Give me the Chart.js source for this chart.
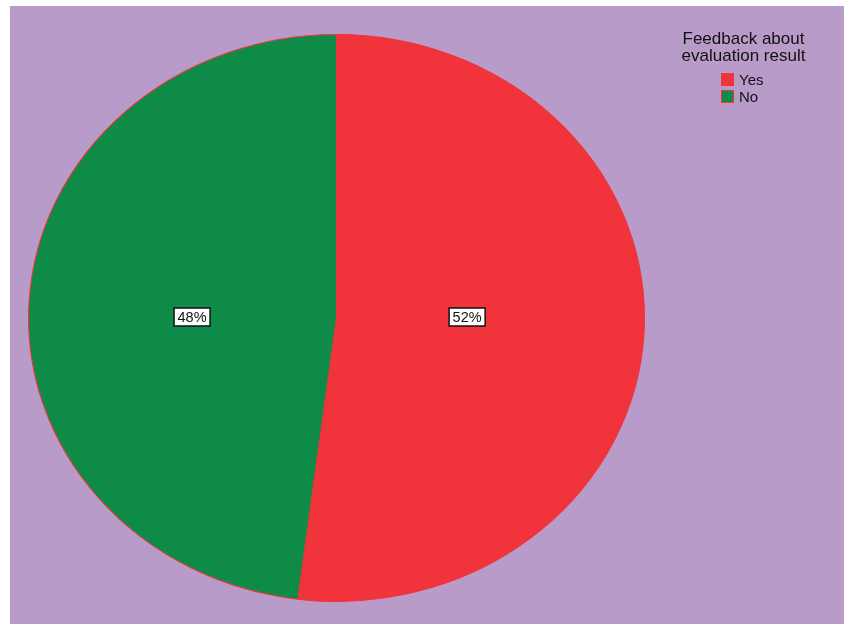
<!DOCTYPE html>
<html>
<head>
<meta charset="utf-8">
<script src="https://cdn.jsdelivr.net/npm/chart.js@4.4.0/dist/chart.umd.min.js"></script>
<style>
  html, body { margin: 0; padding: 0; background: #ffffff; }
  #wrap { position: relative; width: 844px; height: 624px; overflow: hidden; }
  #bg { position: absolute; left: 10px; top: 6px; width: 834px; height: 618px; background: #b89bc9; }
  #pie { position: absolute; left: 0; top: 0; }
  #legend { position: absolute; left: 0; top: 0; font-family: "Liberation Sans", Arial, sans-serif; color: #111; }
  #legend .title { position: absolute; left: 663px; top: 30px; width: 161px; font-size: 17px; line-height: 17px; text-align: center; white-space: nowrap; }
  #legend .item { position: absolute; left: 739px; font-size: 15px; line-height: 17px; white-space: nowrap; }
  #legend .sw { position: absolute; left: 721px; width: 11px; height: 11px; border: 1px solid #f1333b; }
</style>
</head>
<body>
<div id="wrap">
  <div id="bg"></div>
  <canvas id="pie" width="844" height="624"></canvas>
  <div id="legend"></div>
</div>
<script>
var legendTitle = ["Feedback about", "evaluation result"];
var categories = ["Yes", "No"];
var percents = [52, 48];
var sliceColors = ["#f1333b", "#0f8b48"];

// ellipse stretch (SPSS draws the pie as an ellipse)
var stretchX = 308.5 / 284;

var ellipsePlugin = {
  id: "ellipse",
  beforeDatasetsDraw: function (chart) {
    var a = chart.getDatasetMeta(0).data[0];
    var ctx = chart.ctx;
    ctx.save();
    ctx.translate(a.x, a.y);
    ctx.scale(stretchX, 1);
    ctx.translate(-a.x, -a.y);
  },
  afterDatasetsDraw: function (chart) {
    chart.ctx.restore();
  }
};

var boxLabels = {
  id: "boxLabels",
  afterDraw: function (chart, args, opts) {
    var ctx = chart.ctx;
    var meta = chart.getDatasetMeta(0);
    ctx.save();
    ctx.font = "14.5px 'Liberation Sans', Arial, sans-serif";
    ctx.textAlign = "center";
    ctx.textBaseline = "middle";
    meta.data.forEach(function (arc, i) {
      var mid = (arc.startAngle + arc.endAngle) / 2;
      var k = opts.radius[i];
      var x = arc.x + Math.cos(mid) * arc.outerRadius * k * stretchX;
      var y = arc.y + opts.dy[i];
      var txt = percents[i] + "%";
      var w = ctx.measureText(txt).width + 7;
      var h = 18;
      ctx.fillStyle = "#ffffff";
      ctx.fillRect(x - w / 2, y - h / 2, w, h);
      ctx.lineWidth = 1.5;
      ctx.strokeStyle = "#111111";
      ctx.strokeRect(x - w / 2, y - h / 2, w, h);
      ctx.fillStyle = "#111111";
      ctx.fillText(txt, x, y + 1);
    });
    ctx.restore();
  }
};

new Chart(document.getElementById("pie").getContext("2d"), {
  type: "pie",
  data: {
    labels: categories,
    datasets: [{
      data: percents,
      backgroundColor: sliceColors,
      borderColor: "#f1333b",
      borderWidth: 1
    }]
  },
  options: {
    responsive: false,
    animation: false,
    layout: { padding: { left: 52.5, right: 223.5, top: 34, bottom: 22 } },
    plugins: {
      legend: { display: false },
      tooltip: { enabled: false },
      boxLabels: { radius: [0.425, 0.47], dy: [-1, -1] }
    }
  },
  plugins: [ellipsePlugin, boxLabels]
});

// legend as html text
var lg = document.getElementById("legend");
var html = '<div class="title">' + legendTitle.join("<br>") + '</div>';
categories.forEach(function (c, i) {
  var top = 73 + i * 17;
  html += '<span class="sw" style="top:' + top + 'px;background:' + sliceColors[i] + '"></span>';
  html += '<div class="item" style="top:' + (top - 2) + 'px">' + c + '</div>';
});
lg.innerHTML = html;
</script>
</body>
</html>
